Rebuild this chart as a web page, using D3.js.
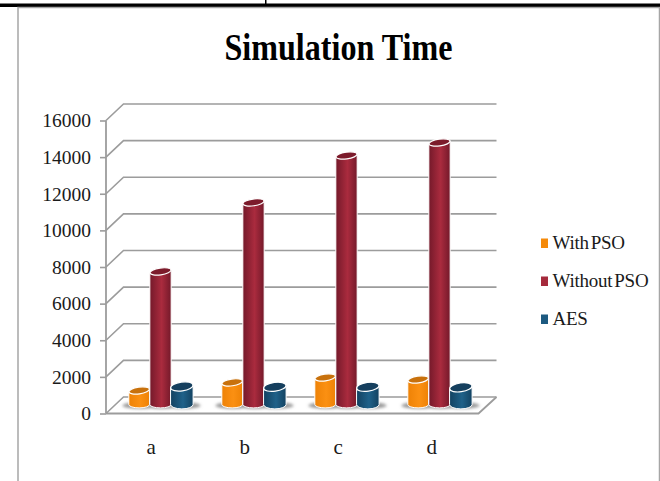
<!DOCTYPE html>
<html>
<head>
<meta charset="utf-8">
<script src="https://cdnjs.cloudflare.com/ajax/libs/d3/7.8.5/d3.min.js"></script>
<style>
html, body { margin: 0; padding: 0; background: #fff; }
svg { display: block; }
text { font-family: "Liberation Serif", serif; fill: #1a1a1a; }
</style>
</head>
<body>
<svg id="chart" width="660" height="481"></svg>
<script>
// values
var categories = ["a", "b", "c", "d"];
var seriesNames = ["With PSO", "Without PSO", "AES"];
var withPSO = [930, 1370, 1640, 1530];
var withoutPSO = [7430, 11200, 13760, 14470];
var aes = [1150, 1130, 1130, 1100];
var yTicks = [0, 2000, 4000, 6000, 8000, 10000, 12000, 14000, 16000];

var seriesValues = [withPSO, withoutPSO, aes];
var seriesIds = ["orange", "red", "blue"];

var colors = {
	orange: {edge: "#ee8206", mid: "#fb9012", top: "#c8710c", key: "#f58a0a", ry: 3.4, extra: -0.3},
	red: {edge: "#74192a", mid: "#aa2b3e", top: "#7c1b2b", key: "#a52a3c", ry: 3.4, extra: 0},
	blue: {edge: "#134261", mid: "#1f6189", top: "#153f5e", key: "#1c5a80", ry: 4.4, extra: 0.6}
};

var svg = d3.select("#chart");
var defs = svg.append("defs");

seriesIds.forEach(function(id){
	var g = defs.append("linearGradient").attr("id", "cyl-" + id);
	g.append("stop").attr("offset", "0%").attr("stop-color", colors[id].edge);
	g.append("stop").attr("offset", "55%").attr("stop-color", colors[id].mid);
	g.append("stop").attr("offset", "100%").attr("stop-color", colors[id].edge);
});
defs.append("filter").attr("id", "soft")
	.attr("x", "-30%").attr("y", "-100%").attr("width", "160%").attr("height", "300%")
	.append("feGaussianBlur").attr("stdDeviation", 1.6);

// page rule and chart frame
svg.append("rect").attr("x", 0).attr("y", 3.5).attr("width", 660).attr("height", 3.5).attr("fill", "#000");
svg.append("rect").attr("x", 265).attr("y", 0).attr("width", 1.5).attr("height", 4).attr("fill", "#000");
svg.append("path")
	.attr("d", "M18,481V7.5H659.5V481")
	.attr("fill", "none").attr("stroke", "#a6a6a6").attr("stroke-width", 1.5);

svg.append("text")
	.attr("x", 338.5).attr("y", 60)
	.attr("text-anchor", "middle")
	.attr("font-size", 37).attr("font-weight", "bold")
	.attr("textLength", 228).attr("lengthAdjust", "spacingAndGlyphs")
	.style("fill", "#000")
	.text("Simulation Time");

// scales, depth is the shift from the front of the floor to the back wall
var depthX = 17.5, depthY = -16.5, barLift = -6, baseLift = -9;
var y = d3.scaleLinear().domain([0, 16000]).range([413.5, 120.5]);
var x = d3.scaleBand().domain(categories).range([114, 486]);
var xLabel = d3.scaleBand().domain(categories).range([104.5, 478.5]);
var inner = d3.scaleBand().domain(seriesNames).range([-32, 32]);

var gridColor = "#9c9c9c";

// back wall lines and the connectors to the axis
var walls = svg.append("g").attr("fill", "none").attr("stroke", gridColor).attr("stroke-width", 1.6);
yTicks.forEach(function(t){
	walls.append("path").attr("d",
		"M106," + y(t) + "L" + (106 + depthX) + "," + (y(t) + depthY) + "H496.5");
});
// floor
svg.append("path")
	.attr("d", d3.line()([[106, y(0)], [478.5, y(0)], [496.5, y(0) + depthY]]))
	.attr("fill", "none").attr("stroke", gridColor).attr("stroke-width", 1.8);

// axis
var axis = d3.axisLeft(y).tickValues(yTicks).tickSize(6).tickPadding(9).tickFormat(d3.format("d"));
var axisG = svg.append("g").attr("transform", "translate(106,0)").call(axis);
axisG.select(".domain").attr("stroke", gridColor).attr("stroke-width", 1.8).attr("d", "M0," + y(16000) + "V" + y(0));
axisG.selectAll(".tick line").attr("stroke", gridColor).attr("stroke-width", 1.6);
axisG.selectAll(".tick text")
	.attr("font-family", '"Liberation Serif", serif')
	.attr("font-size", 19.5)
	.attr("fill", "#1a1a1a");

// shadows under the columns
var shadows = svg.append("g").attr("filter", "url(#soft)");
categories.forEach(function(cat){
	seriesNames.forEach(function(name){
		shadows.append("ellipse")
			.attr("cx", x(cat) + x.bandwidth() / 2 + inner(name) + inner.bandwidth() / 2 + 1)
			.attr("cy", y(0) + baseLift + 1)
			.attr("rx", inner.bandwidth() / 2 + 7)
			.attr("ry", 3.2)
			.attr("fill", "#989898");
	});
});

// columns
function cylinder(cx, base, top, rx, id){
	var ry = colors[id].ry, tilt = 1.5;
	var g = svg.append("g");
	g.append("path")
		.attr("d", "M" + (cx - rx) + "," + (top + tilt) +
			"V" + base +
			"A" + rx + "," + ry + " 0 0 0 " + (cx + rx) + "," + base +
			"V" + (top - tilt) + "Z")
		.attr("fill", "url(#cyl-" + id + ")")
		.attr("stroke", "#fff").attr("stroke-width", 1);
	g.append("ellipse")
		.attr("cx", cx).attr("cy", top)
		.attr("rx", rx).attr("ry", ry)
		.attr("transform", "rotate(-8 " + cx + " " + top + ")")
		.attr("fill", colors[id].top)
		.attr("stroke", "#fff").attr("stroke-width", 1.2);
}

categories.forEach(function(cat, i){
	seriesNames.forEach(function(name, s){
		var cx = x(cat) + x.bandwidth() / 2 + inner(name) + inner.bandwidth() / 2;
		var base = y(0) + baseLift;
		var top = y(seriesValues[s][i]) + barLift;
		cylinder(cx, base, top, inner.bandwidth() / 2 + colors[seriesIds[s]].extra, seriesIds[s]);
	});
});

// category labels
svg.append("g").selectAll("text")
	.data(categories)
	.enter()
	.append("text")
	.attr("x", function(d){ return xLabel(d) + xLabel.bandwidth() / 2; })
	.attr("y", 454)
	.attr("text-anchor", "middle")
	.attr("font-size", 21)
	.text(function(d){ return d; });

// legend
var legendY = d3.scalePoint().domain(seriesNames).range([243, 319]);
var legend = svg.append("g").selectAll("g")
	.data(seriesNames)
	.enter()
	.append("g")
	.attr("transform", function(d){ return "translate(541," + legendY(d) + ")"; });
legend.append("rect")
	.attr("x", 0).attr("y", -4.5).attr("width", 7).attr("height", 9.5)
	.attr("fill", function(d, i){ return colors[seriesIds[i]].key; });
legend.append("text")
	.attr("x", 11.5).attr("y", 6)
	.attr("font-size", 19)
	.attr("word-spacing", "-2.5px")
	.attr("letter-spacing", "-0.25px")
	.text(function(d){ return d; });
</script>
</body>
</html>
